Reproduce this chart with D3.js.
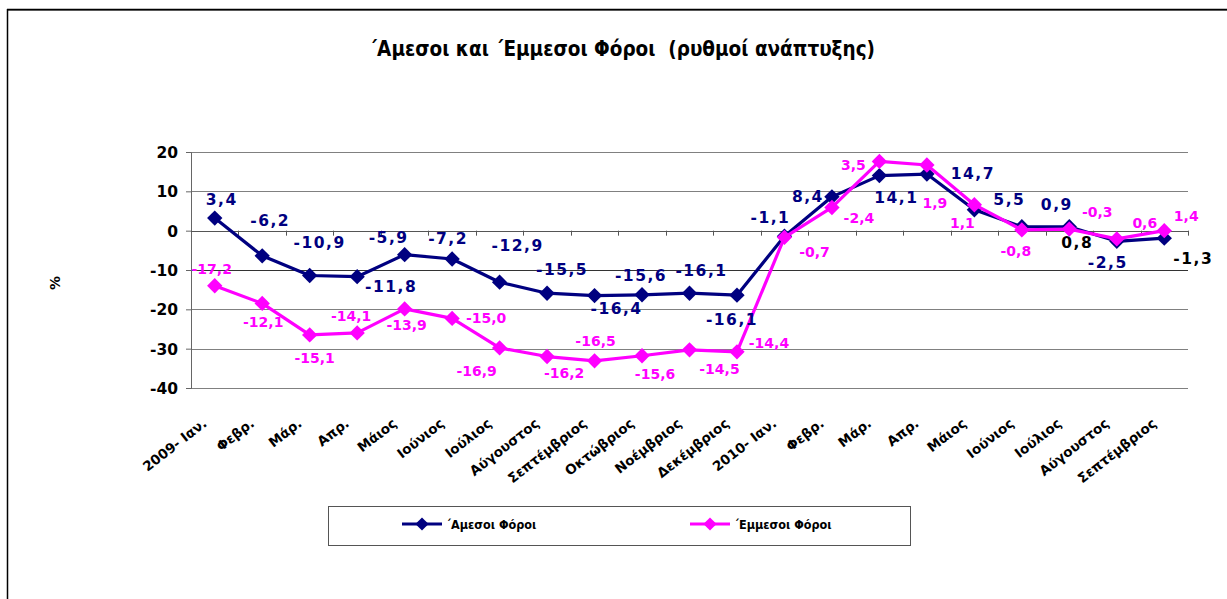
<!DOCTYPE html>
<html>
<head>
<meta charset="utf-8">
<script src="https://cdn.jsdelivr.net/npm/d3@7"></script>
<style>
  body { margin: 0; background: #fff; }
  svg { display: block; }
</style>
</head>
<body>
<div id="chart-area"></div>
<script>
// ---------- data ----------
const categories = ['2009- Ιαν.', 'Φεβρ.', 'Μάρ.', 'Απρ.', 'Μάιος', 'Ιούνιος', 'Ιούλιος',
  'Αύγουστος', 'Σεπτέμβριος', 'Οκτώβριος', 'Νοέμβριος', 'Δεκέμβριος', '2010- Ιαν.', 'Φεβρ.',
  'Μάρ.', 'Απρ.', 'Μάιος', 'Ιούνιος', 'Ιούλιος', 'Αύγουστος', 'Σεπτέμβριος'];

const directTax = [3.2, -6.4, -11.4, -11.7, -6.1, -7.2, -13.1, -15.9, -16.5, -16.3, -15.9,
  -16.4, -1.4, 8.6, 14.0, 14.4, 5.3, 1.0, 1.0, -2.7, -1.9];
const indirectTax = [-14.0, -18.5, -26.5, -26.0, -19.9, -22.3, -29.8, -32.0, -33.1, -31.8,
  -30.3, -30.8, -1.7, 5.9, 17.6, 16.7, 6.6, 0.2, 0.4, -2.1, 0.0];

// data labels as printed on the chart
const directLabels = ['3,4', '-6,2', '-10,9', '-11,8', '-5,9', '-7,2', '-12,9', '-15,5', '-16,4',
  '-15,6', '-16,1', '-16,1', '-1,1', '8,4', '14,1', '14,7', '5,5', '0,9', '0,8', '-2,5', '-1,3'];
const indirectLabels = ['-17,2', '-12,1', '-15,1', '-14,1', '-13,9', '-15,0', '-16,9', '-16,2',
  '-16,5', '-15,6', '-14,5', '-14,4', '-0,7', '-2,4', '3,5', '1,9', '1,1', '-0,8', '-0,3', '0,6', '1,4'];

const yTicks = [-40, -30, -20, -10, 0, 10, 20];
const seriesNames = ['΄Αμεσοι Φόροι', '΄Εμμεσοι Φόροι'];

// ---------- canvas ----------
const W = 1227, H = 599;
const margin = { left: 191, right: 39, top: 152, bottom: 211 };
const width = W - margin.left - margin.right;
const height = H - margin.top - margin.bottom;

const NAVY = '#000080', MAGENTA = '#ff00ff';
const FONT = "'DejaVu Sans', Verdana, sans-serif";
const COND = "'DejaVu Sans Condensed', 'DejaVu Sans', sans-serif";

const svg = d3.select('#chart-area').append('svg')
  .attr('width', W)
  .attr('height', H);

// outer frame
svg.append('line').attr('x1', 7).attr('x2', W).attr('y1', 10.5).attr('y2', 10.5)
  .attr('stroke', '#777').attr('stroke-width', 1);
svg.append('line').attr('x1', 7).attr('x2', W).attr('y1', 9.5).attr('y2', 9.5)
  .attr('stroke', '#000').attr('stroke-width', 1.5);
svg.append('line').attr('x1', 7.5).attr('x2', 7.5).attr('y1', 9).attr('y2', H)
  .attr('stroke', '#000').attr('stroke-width', 1.5);

// title
svg.append('text')
  .attr('x', 622)
  .attr('y', 56)
  .attr('text-anchor', 'middle')
  .attr('font-family', COND)
  .attr('font-stretch', 'condensed')
  .attr('font-weight', 'bold')
  .attr('font-size', '20.5px')
  .style('white-space', 'pre')
  .text('΄Αμεσοι και ΄Εμμεσοι Φόροι  (ρυθμοί ανάπτυξης)');

const g = svg.append('g')
  .attr('transform', 'translate(' + margin.left + ', ' + margin.top + ')');

// scales
const x = d3.scaleBand()
  .domain(d3.range(categories.length))
  .range([0, width]);

const y = d3.scaleLinear()
  .domain([-40, 20])
  .range([height, 0]);

const cx = i => x(i) + x.bandwidth() / 2;

// gridlines
g.append('g')
  .selectAll('line')
  .data(yTicks)
  .enter()
  .append('line')
    .attr('x1', 0)
    .attr('x2', width)
    .attr('y1', d => Math.round(y(d)) + 0.5)
    .attr('y2', d => Math.round(y(d)) + 0.5)
    .attr('stroke', d => (d === -10 || d === 0) ? '#333' : '#808080')
    .attr('stroke-width', 1.2);

// y axis
const yAxisCall = d3.axisLeft(y)
  .tickValues(yTicks)
  .tickFormat(d => String(d))
  .tickSize(5)
  .tickPadding(8);
const yAxis = g.append('g')
  .attr('class', 'y-axis')
  .call(yAxisCall);
yAxis.select('.domain').attr('stroke', '#666');
yAxis.selectAll('.tick line').attr('stroke', '#666');
yAxis.selectAll('text')
  .attr('font-family', FONT)
  .attr('font-weight', 'bold')
  .attr('font-size', '15.5px')
  .attr('fill', '#000')
  .attr('dy', '0.36em');

// zero axis with ticks on category boundaries
g.append('line')
  .attr('x1', 0).attr('x2', width)
  .attr('y1', Math.round(y(0)) + 0.5).attr('y2', Math.round(y(0)) + 0.5)
  .attr('stroke', '#555').attr('stroke-width', 1.2);
g.append('g')
  .selectAll('line')
  .data(d3.range(1, categories.length + 1))
  .enter()
  .append('line')
    .attr('x1', d => Math.round(x.step() * d) + 0.5)
    .attr('x2', d => Math.round(x.step() * d) + 0.5)
    .attr('y1', y(0))
    .attr('y2', y(0) + 5)
    .attr('stroke', '#555');

// category labels below the plot
g.append('g')
  .selectAll('text')
  .data(categories)
  .enter()
  .append('text')
    .attr('text-anchor', 'end')
    .attr('transform', (d, i) => 'translate(' + (cx(i) - 7) + ',' + (height + 37) + ') rotate(-38)')
    .attr('font-family', FONT)
    .attr('font-weight', 'bold')
    .attr('font-size', '13.5px')
    .text(d => d);

// y label
svg.append('text')
  .attr('transform', 'translate(60, 283) rotate(-90)')
  .attr('text-anchor', 'middle')
  .attr('font-family', FONT)
  .attr('font-weight', 'bold')
  .attr('font-size', '14px')
  .text('%');

// lines
const line = d3.line()
  .x((d, i) => cx(i))
  .y(d => y(d));

const diamond = d3.symbol().type(d3.symbolDiamond2).size(150);

function drawSeries(values, color) {
  g.append('path')
    .datum(values)
    .attr('fill', 'none')
    .attr('stroke', color)
    .attr('stroke-width', 3.2)
    .attr('stroke-linejoin', 'round')
    .attr('d', line);
  g.append('g')
    .selectAll('path')
    .data(values)
    .enter()
    .append('path')
      .attr('transform', (d, i) => 'translate(' + cx(i) + ',' + y(d) + ')')
      .attr('d', diamond)
      .attr('fill', color);
}

drawSeries(directTax, NAVY);
drawSeries(indirectTax, MAGENTA);

// label placement offsets from each point (layout only)
const directOffsets = [[7, -19], [8, -35], [10, -33], [34, 10], [-16, -17], [-4, -21], [18, -37],
  [15, -24], [22, 13], [-1, -19], [12, -23], [-5, 24], [-14, -19], [-24, 0], [17, 22], [46, -1],
  [35, -10], [35, -22], [8, 16], [-9, 21], [29, 20]];
const indirectOffsets = [[-3, -17], [1, 19], [5, 23], [-6, -17], [2, 16], [34, 0], [-23, 23],
  [17, 16], [1, -20], [13, 18], [30, 19], [32, -9], [30, 15], [27, 10], [-26, 4], [8, 38],
  [-12, 18], [-6, 21], [28, -17], [28, -16], [22, -15]];
const blackLabels = new Set([18, 20]);

g.append('g')
  .selectAll('text')
  .data(directLabels)
  .enter()
  .append('text')
    .attr('x', (d, i) => cx(i) + directOffsets[i][0])
    .attr('y', (d, i) => y(directTax[i]) + directOffsets[i][1])
    .attr('dy', '0.36em')
    .attr('text-anchor', 'middle')
    .attr('font-family', FONT)
    .attr('font-weight', 'bold')
    .attr('font-size', '15.5px')
    .attr('letter-spacing', '1.5px')
    .attr('fill', (d, i) => blackLabels.has(i) ? '#000' : NAVY)
    .text(d => d);

g.append('g')
  .selectAll('text')
  .data(indirectLabels)
  .enter()
  .append('text')
    .attr('x', (d, i) => cx(i) + indirectOffsets[i][0])
    .attr('y', (d, i) => y(indirectTax[i]) + indirectOffsets[i][1])
    .attr('dy', '0.36em')
    .attr('text-anchor', 'middle')
    .attr('font-family', FONT)
    .attr('font-weight', 'bold')
    .attr('font-size', '14px')
    .attr('fill', MAGENTA)
    .text(d => d);

// legend
const legend = svg.append('g');
legend.append('rect')
  .attr('x', 328.5).attr('y', 506.5)
  .attr('width', 582).attr('height', 39)
  .attr('fill', '#fff')
  .attr('stroke', '#555');

[NAVY, MAGENTA].forEach((c, k) => {
  const lx = k === 0 ? 402 : 690;
  const item = legend.append('g').attr('transform', 'translate(' + lx + ',524)');
  item.append('line')
    .attr('x1', 0).attr('x2', 40)
    .attr('stroke', c).attr('stroke-width', 3.2);
  item.append('path')
    .attr('transform', 'translate(20,0)')
    .attr('d', d3.symbol().type(d3.symbolDiamond2).size(110))
    .attr('fill', c);
  item.append('text')
    .attr('x', 44)
    .attr('dy', '0.36em')
    .attr('font-family', COND)
    .attr('font-stretch', 'condensed')
    .attr('font-weight', 'bold')
    .attr('font-size', '12.5px')
    .text(seriesNames[k]);
});
</script>
</body>
</html>
